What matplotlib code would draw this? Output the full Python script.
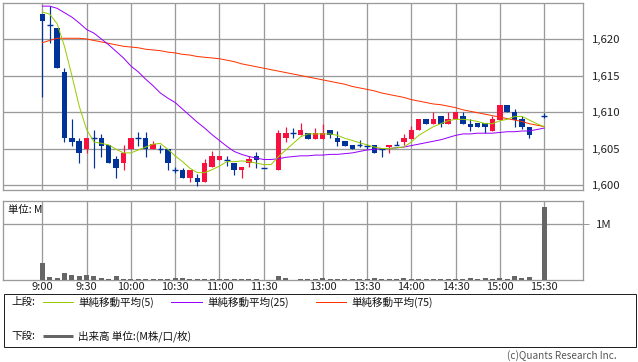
import matplotlib
matplotlib.use('Agg')
import matplotlib.pyplot as plt
from matplotlib.patches import Rectangle
from matplotlib.lines import Line2D
import numpy as np

plt.rcParams['font.family'] = ['Noto Sans CJK JP', 'DejaVu Sans']

nan = np.nan
# ---- data (5-minute candles, index 0 = 9:00, 31 = lunch gap, 67 = pre-close) ----
opens = [1623.4, 1621.9, 1621.5, 1615.5, 1606.5, 1606.0, 1605.0, 1606.5, 1606.5, 1605.5,
         1603.6, 1603.0, 1605.0, 1606.5, 1606.5, 1605.0, 1605.0, 1605.0, 1602.0, 1602.1,
         1600.9, 1601.0, 1600.4, 1602.5, 1603.4, 1603.4, 1603.0, 1602.0, 1603.0, 1604.0,
         1602.4, nan, 1602.0, 1606.4, 1607.1, 1606.8, 1607.1, 1606.3, 1606.3, 1607.5,
         1606.5, 1606.0, 1605.5, 1605.5, 1605.3, 1605.5, 1605.0, 1605.2, 1605.5, 1605.9,
         1606.3, 1607.5, 1609.0, 1608.4, 1609.5, 1608.4, 1609.0, 1609.5, 1608.4, 1608.5,
         1608.5, 1607.4, 1608.9, 1611.0, 1610.0, 1609.0, 1608.0, nan, 1609.45]
highs = [1623.4, 1624.5, 1621.5, 1616.0, 1609.0, 1606.5, 1606.5, 1607.5, 1607.0, 1605.5,
         1604.0, 1605.5, 1606.5, 1607.2, 1607.2, 1606.0, 1605.5, 1605.0, 1602.5, 1602.4,
         1602.1, 1601.5, 1603.5, 1604.6, 1604.0, 1604.0, 1603.0, 1602.5, 1604.0, 1604.5,
         1602.4, nan, 1607.5, 1607.9, 1607.8, 1608.5, 1607.1, 1607.8, 1608.4, 1607.5,
         1607.4, 1606.0, 1605.5, 1606.1, 1605.6, 1605.5, 1605.0, 1605.5, 1606.0, 1607.0,
         1608.1, 1609.0, 1609.0, 1610.0, 1609.5, 1610.0, 1610.0, 1610.0, 1609.0, 1608.5,
         1608.5, 1609.5, 1611.0, 1611.0, 1610.4, 1609.5, 1608.0, nan, 1609.9]
lows = [1612.0, 1619.4, 1616.0, 1605.9, 1605.4, 1603.0, 1604.4, 1602.4, 1603.9, 1603.0,
        1600.9, 1602.0, 1605.0, 1605.3, 1603.9, 1605.0, 1604.4, 1602.0, 1601.6, 1600.9,
        1600.4, 1599.9, 1600.4, 1602.5, 1603.4, 1602.6, 1601.4, 1600.9, 1602.5, 1602.4,
        1602.4, nan, 1602.0, 1605.9, 1606.4, 1606.8, 1606.3, 1606.3, 1606.3, 1606.4,
        1605.4, 1605.4, 1605.0, 1605.2, 1605.0, 1604.4, 1603.9, 1604.4, 1605.5, 1605.5,
        1606.3, 1607.5, 1608.4, 1608.4, 1607.9, 1608.4, 1609.0, 1608.4, 1607.4, 1607.9,
        1607.1, 1607.4, 1608.9, 1610.0, 1607.9, 1607.7, 1606.4, nan, 1609.2]
closes = [1622.4, 1621.9, 1616.0, 1606.4, 1605.9, 1604.4, 1606.5, 1606.5, 1605.4, 1603.0,
          1602.4, 1604.4, 1606.5, 1606.5, 1605.0, 1605.6, 1605.0, 1603.0, 1602.0, 1600.9,
          1602.1, 1600.4, 1603.0, 1604.0, 1604.0, 1603.4, 1602.0, 1602.5, 1603.5, 1603.4,
          1602.4, nan, 1607.1, 1607.1, 1607.1, 1607.5, 1606.3, 1607.1, 1607.1, 1606.9,
          1605.9, 1605.4, 1605.0, 1605.5, 1605.3, 1604.4, 1605.0, 1605.5, 1605.5, 1606.5,
          1607.5, 1609.0, 1608.4, 1609.0, 1608.4, 1609.0, 1610.0, 1608.4, 1607.9, 1607.9,
          1607.9, 1609.0, 1611.0, 1610.0, 1608.9, 1607.9, 1606.9, nan, 1609.45]
volumes = [0.305, 0.054, 0.036, 0.12, 0.084, 0.072, 0.09, 0.072, 0.036, 0.018,
           0.072, 0.018, 0.018, 0.018, 0.018, 0.018, 0.018, 0.018, 0.036, 0.036,
           0.018, 0.018, 0.018, 0.018, 0.01, 0.01, 0.01, 0.018, 0.018, 0.018,
           0.0, 0.0, 0.072, 0.036, 0.005, 0.018, 0.018, 0.018, 0.03, 0.01,
           0.018, 0.01, 0.01, 0.01, 0.018, 0.036, 0.01, 0.018, 0.01, 0.036,
           0.018, 0.018, 0.018, 0.018, 0.018, 0.018, 0.01, 0.018, 0.036, 0.01,
           0.036, 0.018, 0.036, 0.018, 0.072, 0.036, 0.054, 0.0, 1.305]
ma5 = [1623.7, 1623.4, 1622.1, 1619.0, 1615.0, 1610.8, 1607.6, 1605.9, 1605.7, 1605.5,
       1604.9, 1604.4, 1604.4, 1604.8, 1605.2, 1605.6, 1605.7, 1604.9, 1604.0, 1603.2,
       1602.3, 1601.7, 1601.7, 1602.1, 1602.6, 1603.2, 1603.2, 1603.3, 1603.2, 1603.0,
       1602.8, 1602.8, 1603.9, 1604.8, 1605.7, 1606.6, 1607.0, 1607.0, 1607.0, 1607.0,
       1606.8, 1606.4, 1606.1, 1605.8, 1605.5, 1605.2, 1605.0, 1605.0, 1605.1, 1605.2,
       1605.9, 1606.8, 1607.4, 1608.0, 1608.4, 1608.8, 1609.0, 1609.0, 1608.9, 1608.7,
       1608.4, 1608.4, 1608.8, 1609.0, 1609.4, 1609.4, 1608.9, 1608.4, 1608.0]
ma25 = [1624.5, 1624.5, 1624.2, 1623.6, 1623.0, 1622.2, 1621.3, 1620.8, 1620.0, 1619.2,
        1618.3, 1617.4, 1616.3, 1615.5, 1614.5, 1613.6, 1612.6, 1611.9, 1611.3, 1610.4,
        1609.5, 1608.6, 1607.8, 1606.9, 1606.1, 1605.3, 1604.6, 1604.2, 1603.9, 1603.7,
        1603.5, 1603.5, 1603.6, 1603.8, 1603.9, 1604.0, 1604.0, 1604.1, 1604.1, 1604.2,
        1604.2, 1604.3, 1604.4, 1604.6, 1604.8, 1604.9, 1605.0, 1605.0, 1605.1, 1605.2,
        1605.4, 1605.6, 1605.8, 1606.0, 1606.2, 1606.5, 1606.8, 1607.0, 1607.0, 1607.1,
        1607.1, 1607.1, 1607.2, 1607.3, 1607.3, 1607.4, 1607.4, 1607.6, 1607.8]
ma75 = [1619.5, 1619.8, 1620.1, 1620.1, 1620.1, 1620.1, 1620.0, 1619.8, 1619.6, 1619.4,
        1619.2, 1619.0, 1618.9, 1618.8, 1618.6, 1618.5, 1618.4, 1618.2, 1618.1, 1617.9,
        1617.8, 1617.6, 1617.5, 1617.4, 1617.3, 1617.1, 1616.9, 1616.6, 1616.4, 1616.2,
        1616.0, 1615.8, 1615.6, 1615.4, 1615.2, 1615.0, 1614.8, 1614.6, 1614.4, 1614.2,
        1614.0, 1613.8, 1613.5, 1613.3, 1613.1, 1612.9, 1612.6, 1612.4, 1612.2, 1612.0,
        1611.7, 1611.5, 1611.3, 1611.1, 1611.0, 1610.8, 1610.6, 1610.3, 1610.1, 1609.9,
        1609.7, 1609.5, 1609.3, 1609.1, 1608.9, 1608.7, 1608.4, 1608.2, 1608.0]
tick_pos = [0, 6, 12, 18, 24, 30, 38, 44, 50, 56, 62, 68]
tick_labels = ['9:00', '9:30', '10:00', '10:30', '11:00', '11:30',
               '13:00', '13:30', '14:00', '14:30', '15:00', '15:30']
price_ticks = [1600, 1605, 1610, 1615, 1620]
price_labels = ['1,600', '1,605', '1,610', '1,615', '1,620']
legend_labels = ['単純移動平均(5)', '単純移動平均(25)', '単純移動平均(75)']

# ---- style ----
UP = '#f8103f'
DOWN = '#00339a'
GRID = '#9a9a9a'
C5, C25, C75 = '#99cc00', '#9900ff', '#ff3300'
PX = 0.72  # one pixel in points

W, H = 638, 362
fig = plt.figure(figsize=(W / 100, H / 100), dpi=100)


def rect(l, t, r, b):
    return [l / W, 1 - b / H, (r - l) / W, (b - t) / H]


ax = fig.add_axes(rect(3, 3, 583, 190))
axv = fig.add_axes(rect(3, 201, 583, 280))

x = np.arange(len(opens))
XL = (-5.33, 73.27)

for a in (ax, axv):
    a.set_xlim(*XL)
    a.set_xticks(tick_pos)
    a.grid(True, color=GRID, lw=1.3 * PX, zorder=0)
    a.set_axisbelow(True)
    for s in a.spines.values():
        s.set_color(GRID)
        s.set_linewidth(1.3 * PX)

# candles
for i in x:
    o, h, l, c = opens[i], highs[i], lows[i], closes[i]
    if np.isnan(o):
        continue
    col = UP if c > o + 0.05 else DOWN
    if h > l:
        ax.vlines(i, l, h, color=col, lw=1.2 * PX, zorder=3)
    if abs(c - o) < 0.15:
        ax.hlines(o, i - 0.38, i + 0.38, color=col, lw=1.4 * PX, zorder=4)
    else:
        ax.add_patch(Rectangle((i - 0.37, min(o, c)), 0.74, abs(c - o),
                               facecolor=col, edgecolor='none', zorder=4))

ax.plot(x, ma75, color=C75, lw=1.0 * PX, zorder=5)
ax.plot(x, ma25, color=C25, lw=1.0 * PX, zorder=5)
ax.plot(x, ma5, color=C5, lw=1.0 * PX, zorder=6)

ax.set_ylim(1599.32, 1624.93)
ax.set_yticks(price_ticks)
ax.set_yticklabels(price_labels)
ax.yaxis.tick_right()
ax.tick_params(axis='y', length=0, pad=6.5, labelsize=8.2, colors='#222222')
ax.tick_params(axis='x', length=0, labelbottom=False)

# volume
axv.bar(x, volumes, width=0.68, color='#666666', zorder=3)
axv.set_ylim(0, 1.418)
axv.set_yticks([1.0])
axv.set_yticklabels(['1M'])
axv.yaxis.tick_right()
axv.tick_params(axis='y', length=4, width=PX, color=GRID, pad=5, labelsize=8.2, labelcolor='#222222')
axv.set_xticklabels(tick_labels)
axv.tick_params(axis='x', length=0, pad=1.5, labelsize=8, labelcolor='#222222')
axv.text(5 / 580, 1 - 9 / 79, '単位: M', transform=axv.transAxes, fontsize=7.5,
         ha='left', va='center', color='#111111')


def fx(px):
    return px / W


def fy(py):
    return 1 - py / H


# legend box
fig.patches.append(Rectangle((fx(4), fy(347)), fx(632), 53 / H, transform=fig.transFigure,
                             facecolor='none', edgecolor='#222222', lw=1.0 * PX))
fs = 7.6
fig.text(fx(11), fy(302), '上段:', fontsize=fs, ha='left', va='center', color='#111111')
fig.text(fx(11), fy(336), '下段:', fontsize=fs, ha='left', va='center', color='#111111')
for (x0, x1, col, tx, lab) in [(43, 73, C5, 78, legend_labels[0]),
                               (171, 202, C25, 207, legend_labels[1]),
                               (316, 346, C75, 351, legend_labels[2])]:
    fig.lines.append(Line2D([fx(x0), fx(x1)], [fy(302), fy(302)], transform=fig.transFigure,
                            color=col, lw=1.0 * PX))
    fig.text(fx(tx), fy(302), lab, fontsize=fs, ha='left', va='center', color='#111111')
fig.lines.append(Line2D([fx(43), fx(73)], [fy(336), fy(336)], transform=fig.transFigure,
                        color='#666666', lw=3 * PX, solid_capstyle='butt'))
fig.text(fx(78), fy(336), '出来高 単位:(M株/口/枚)', fontsize=fs, ha='left', va='center', color='#111111')
fig.text(fx(617), fy(356), '(c)Quants Research Inc.', fontsize=7.2, ha='right', va='center',
         color='#555555')

fig.savefig('out.png', dpi=100)
